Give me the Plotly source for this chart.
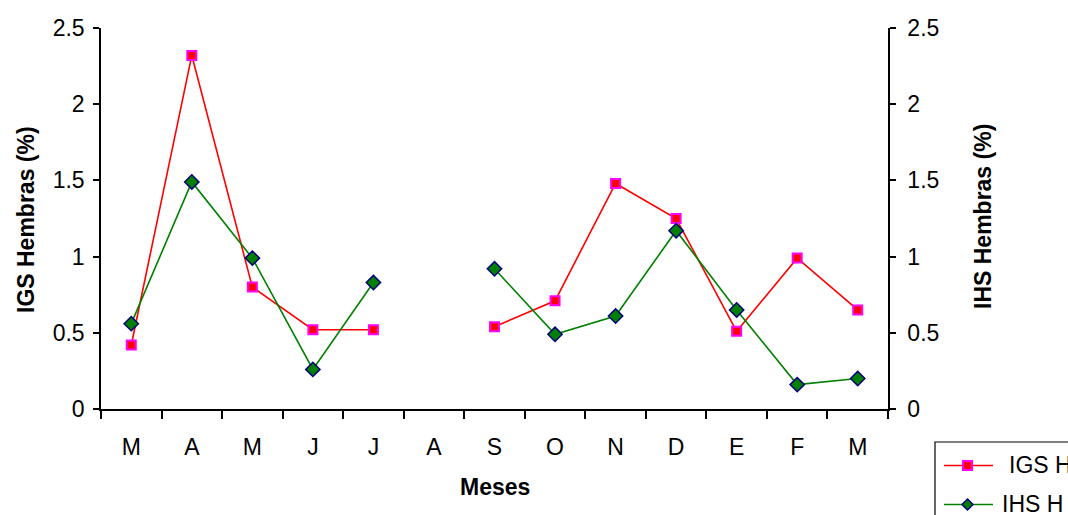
import plotly.graph_objects as go

# Monthly female gonadosomatic (IGS) and hepatosomatic (IHS) indices
meses = ["M", "A", "M", "J", "J", "A", "S", "O", "N", "D", "E", "F", "M"]
igs_h = [0.42, 2.32, 0.80, 0.52, 0.52, None, 0.54, 0.71, 1.48, 1.25, 0.51, 0.99, 0.65]
ihs_h = [0.56, 1.49, 0.99, 0.26, 0.83, None, 0.92, 0.49, 0.61, 1.17, 0.65, 0.16, 0.20]
y_ticks = [0, 0.5, 1, 1.5, 2, 2.5]

FONT = "Liberation Sans, Arial, sans-serif"
FS = 23
W, H = 1068, 515
ML, MR, MT, MB = 101, 180, 28, 106
PW, PH = W - ML - MR, H - MT - MB

x = list(range(len(meses)))
bounds = [i - 0.5 for i in range(len(meses) + 1)]
xr = [-0.5, len(meses) - 0.5]
yr = [0, 2.5]


def px(v):
    return (v - ML) / PW


def py(v):
    return (H - MB - v) / PH


fig = go.Figure()
fig.add_trace(go.Scatter(
    x=x, y=igs_h, name="IGS H", mode="lines+markers", yaxis="y",
    line=dict(color="#FF0000", width=1.6),
    marker=dict(symbol="square", size=9, color="#FF0000",
                line=dict(color="#FF00FF", width=2)),
    connectgaps=False, showlegend=False,
))
fig.add_trace(go.Scatter(
    x=x, y=ihs_h, name="IHS H", mode="lines+markers", yaxis="y2",
    line=dict(color="#008000", width=1.6),
    marker=dict(symbol="diamond", size=11, color="#008000",
                line=dict(color="#000080", width=1.5)),
    connectgaps=False, showlegend=False,
))

tickfont = dict(family=FONT, size=FS, color="black")
common_y = dict(range=yr, tickmode="array", tickvals=y_ticks, showgrid=False,
                zeroline=False, showline=True, linecolor="black", linewidth=1.5,
                tickcolor="black", tickwidth=1.5, ticklen=6, tickfont=tickfont)

fig.update_layout(
    width=W, height=H,
    margin=dict(l=ML, r=MR, t=MT, b=MB, autoexpand=False),
    paper_bgcolor="white", plot_bgcolor="white",
    showlegend=False,
    xaxis=dict(
        range=xr, tickmode="array", tickvals=x, ticktext=meses,
        ticks="outside", ticklen=8, tickcolor="rgba(0,0,0,0)",
        ticklabelstandoff=9,
        minor=dict(tickmode="array", tickvals=bounds, ticks="outside",
                   ticklen=8, tickcolor="black", tickwidth=1.5),
        showgrid=False, zeroline=False, showline=True, linecolor="black",
        linewidth=1.5, tickfont=tickfont,
    ),
    xaxis2=dict(
        range=xr, overlaying="x", anchor="y", tickmode="array", tickvals=bounds,
        ticks="inside", ticklen=6, tickcolor="black", tickwidth=1.5,
        showticklabels=False, showgrid=False, zeroline=False, showline=False,
        side="bottom",
    ),
    yaxis=dict(side="left", ticks="outside", ticklabelstandoff=4, **common_y),
    yaxis2=dict(side="right", overlaying="y", anchor="x", ticks="outside",
                ticklabelstandoff=7, **common_y),
    yaxis3=dict(side="left", overlaying="y", anchor="x", range=yr,
                tickmode="array", tickvals=y_ticks, ticks="inside", ticklen=6,
                tickcolor="black", tickwidth=1.5, showticklabels=False,
                showgrid=False, zeroline=False, showline=False),
    yaxis4=dict(side="right", overlaying="y", anchor="x", range=yr,
                tickmode="array", tickvals=y_ticks, ticks="inside", ticklen=6,
                tickcolor="black", tickwidth=1.5, showticklabels=False,
                showgrid=False, zeroline=False, showline=False),
)

title_font = dict(family=FONT, size=FS, color="black")
bold = lambda s: "<b>" + s + "</b>"
fig.add_annotation(x=px(26), y=py(220), xref="paper", yref="paper",
                   text=bold("IGS Hembras (%)"), textangle=-90, showarrow=False,
                   font=title_font, xanchor="center", yanchor="middle")
fig.add_annotation(x=px(983), y=py(216), xref="paper", yref="paper",
                   text=bold("IHS Hembras (%)"), textangle=-90, showarrow=False,
                   font=title_font, xanchor="center", yanchor="middle")
fig.add_annotation(x=px(495), y=py(487), xref="paper", yref="paper",
                   text=bold("Meses"), showarrow=False, font=title_font,
                   xanchor="center", yanchor="middle")

# Legend box drawn at the lower right corner
fig.add_shape(type="rect", xref="paper", yref="paper",
              x0=px(935), x1=px(1090), y0=py(442), y1=py(530),
              line=dict(color="black", width=1.2), fillcolor="white", layer="above")
legend_rows = [
    ("IGS H", 465.5, 1007, "#FF0000", "square", "#FF0000", "#FF00FF"),
    ("IHS H", 504.5, 1000, "#008000", "diamond", "#008000", "#000080"),
]
for label, yy, tx, lc, sym, fc, bc in legend_rows:
    fig.add_shape(type="line", xref="paper", yref="paper",
                  x0=px(944), x1=px(993), y0=py(yy), y1=py(yy),
                  line=dict(color=lc, width=1.6), layer="above")
    if sym == "square":
        fig.add_shape(type="rect", xref="paper", yref="paper",
                      x0=px(963), x1=px(972), y0=py(yy - 4.5), y1=py(yy + 4.5),
                      line=dict(color=bc, width=2), fillcolor=fc, layer="above")
    else:
        cx, cy, r = 967.5, yy, 5.5
        path = "M {} {} L {} {} L {} {} L {} {} Z".format(
            px(cx), py(cy - r), px(cx + r), py(cy), px(cx), py(cy + r), px(cx - r), py(cy))
        fig.add_shape(type="path", xref="paper", yref="paper", path=path,
                      line=dict(color=bc, width=1.5), fillcolor=fc, layer="above")
    fig.add_annotation(x=px(tx), y=py(yy - 1), xref="paper", yref="paper",
                       text=label, showarrow=False, font=title_font,
                       xanchor="left", yanchor="middle")

fig.write_html("out.html")
